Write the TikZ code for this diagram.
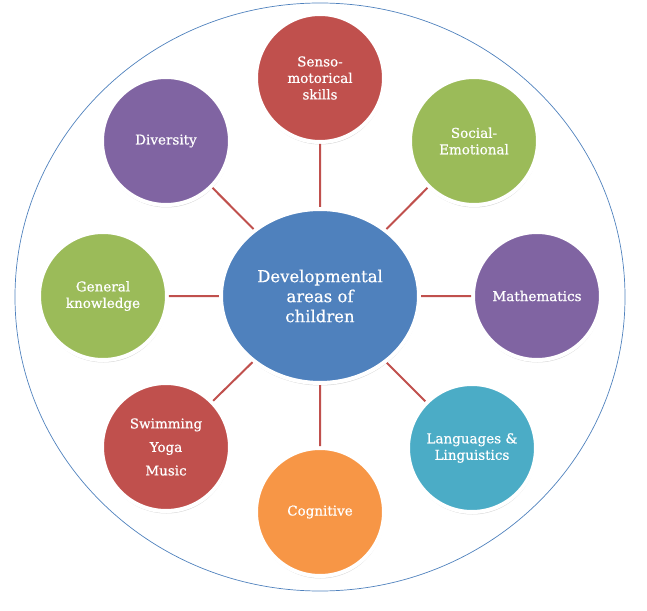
\documentclass[tikz,border=0pt]{standalone}
\usepackage{fontspec}
\setmainfont{DejaVu Serif}[FakeBold=0.6]
\usepackage{xcolor}
\usetikzlibrary{shapes.geometric, shadows}

\definecolor{areablue}{HTML}{4F81BD}
\definecolor{areared}{HTML}{C0504D}
\definecolor{areagreen}{HTML}{9BBB59}
\definecolor{areapurple}{HTML}{8064A2}
\definecolor{areaaqua}{HTML}{4BACC6}
\definecolor{areaorange}{HTML}{F79646}

\begin{document}
\begin{tikzpicture}[x=1pt, y=1pt,
        area/.style={circle, draw=white, line width=4pt, minimum size=128pt, inner sep=0pt,
            align=center, text=white, font=\fontsize{13.5}{16.5}\selectfont,
            drop shadow={opacity=0.3, shadow xshift=0.5pt, shadow yshift=-2.5pt}},
        link/.style={draw=areared, line width=2pt}]
    \useasboundingbox (-320, -314) rectangle (327, 296);

    \draw[areablue, line width=0.7pt] (0, -1) ellipse [x radius=305, y radius=294];

    \node[ellipse, draw=white, line width=4pt, fill=areablue, minimum width=198pt, minimum height=174pt,
        inner sep=0pt, align=center, text=white, font=\fontsize{16.5}{20}\selectfont,
        drop shadow={opacity=0.3, shadow xshift=0.5pt, shadow yshift=-2.5pt}] (dev) at (0, 0)
        {Developmental\\areas of\\children};

    \node[area, fill=areared] (senso) at (0, 218) {Senso-\\motorical\\skills};
    \node[area, fill=areagreen] (social) at (154, 155) {Social-\\Emotional};
    \node[area, fill=areapurple] (math) at (217, 0) {Mathematics};
    \node[area, fill=areaaqua] (lang) at (152, -152) {Languages \&\\Linguistics};
    \node[area, fill=areaorange] (cog) at (0, -216) {Cognitive};
    \node[area, fill=areared] (sport) at (-154, -151) {Swimming\\[7pt]Yoga\\[7pt]Music};
    \node[area, fill=areagreen] (general) at (-217, 0) {General\\knowledge};
    \node[area, fill=areapurple] (div) at (-154, 155) {Diversity};

    \draw[link] (dev) -- (senso)
        (dev) -- (social)
        (dev) -- (math)
        (dev) -- (lang)
        (dev) -- (cog)
        (dev) -- (sport)
        (dev) -- (general)
        (dev) -- (div);
\end{tikzpicture}
\end{document}
